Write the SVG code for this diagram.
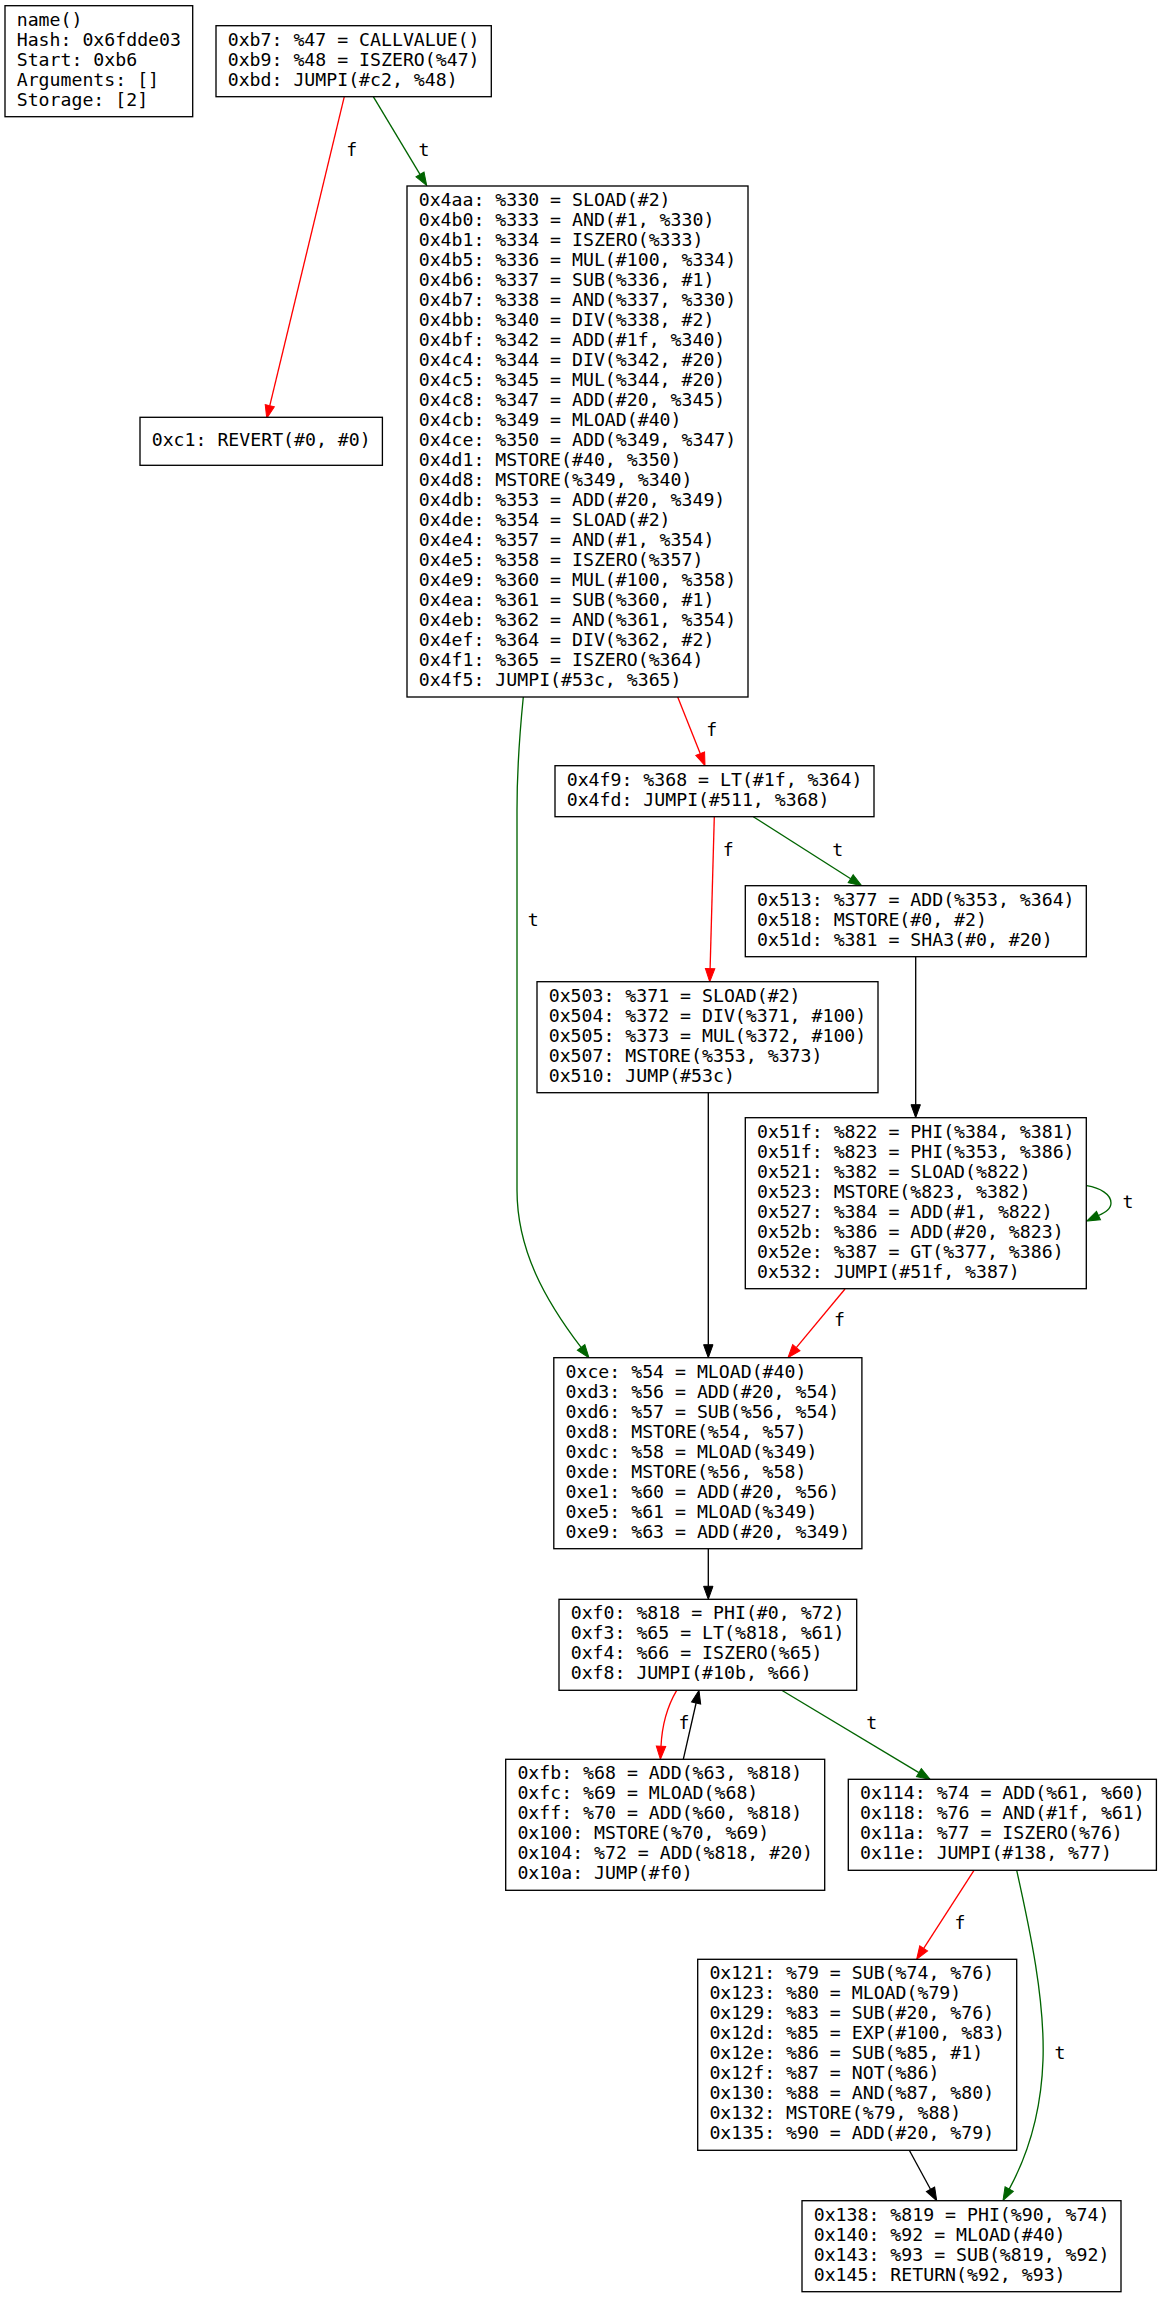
<svg xmlns="http://www.w3.org/2000/svg" width="1162" height="2297" viewBox="0 0 1162 2297">
<style>
.n rect{fill:#fff;stroke:#000;stroke-width:1.33}
text{font-family:"DejaVu Sans Mono","Liberation Mono",monospace;font-size:18.2px;fill:#000}
.e path{fill:none;stroke-width:1.33}
.r{stroke:#ff0000}
.g{stroke:#006400}
.k{stroke:#000}
.lbl{text-anchor:middle}
</style>
<defs>
<marker id="ar" markerUnits="userSpaceOnUse" markerWidth="14" markerHeight="10" viewBox="0 -5 14 10" refX="0" refY="0" orient="auto" overflow="visible"><polygon points="0,-4.7 13,0 0,4.7" fill="#ff0000" stroke="#ff0000" stroke-width="1"/></marker>
<marker id="ag" markerUnits="userSpaceOnUse" markerWidth="14" markerHeight="10" viewBox="0 -5 14 10" refX="0" refY="0" orient="auto" overflow="visible"><polygon points="0,-4.7 13,0 0,4.7" fill="#006400" stroke="#006400" stroke-width="1"/></marker>
<marker id="ak" markerUnits="userSpaceOnUse" markerWidth="14" markerHeight="10" viewBox="0 -5 14 10" refX="0" refY="0" orient="auto" overflow="visible"><polygon points="0,-4.7 13,0 0,4.7" fill="#000" stroke="#000" stroke-width="1"/></marker>
</defs>
<rect width="1162" height="2297" fill="#fff"/>
<g id="connectors" class="e">
<path class="r" d="M344.3,96.7 L269.8,405.7" marker-end="url(#ar)"/>
<text class="lbl" x="351.7" y="156">f</text>
<path class="g" d="M373.3,96.7 L420,174.4" marker-end="url(#ag)"/>
<text class="lbl" x="424" y="156">t</text>
<path class="r" d="M677.7,697 L700.2,753.6" marker-end="url(#ar)"/>
<text class="lbl" x="711.7" y="736">f</text>
<path class="g" d="M523.3,697 C519.5,735 517,770 517,810 L517,1190 C517,1250 545,1300 581.1,1347.4" marker-end="url(#ag)"/>
<text class="lbl" x="533.3" y="926">t</text>
<path class="r" d="M714.3,816.7 L710.1,968.7" marker-end="url(#ar)"/>
<text class="lbl" x="728.3" y="856">f</text>
<path class="g" d="M753.3,816.7 L850.7,878.7" marker-end="url(#ag)"/>
<text class="lbl" x="837.7" y="856">t</text>
<path class="k" d="M915.7,956.7 L915.7,1104.7" marker-end="url(#ak)"/>
<path class="g" d="M1086.7,1185.7 C1100,1188 1111,1194 1111,1203 C1111,1209 1105.5,1212.2 1098.5,1215.5" marker-end="url(#ag)"/>
<text class="lbl" x="1128" y="1208">t</text>
<path class="r" d="M845,1289 L796.3,1347.7" marker-end="url(#ar)"/>
<text class="lbl" x="839.6" y="1326">f</text>
<path class="k" d="M708.3,1092.7 L708.3,1344.7" marker-end="url(#ak)"/>
<path class="k" d="M708.3,1548.7 L708.3,1586.3" marker-end="url(#ak)"/>
<path class="r" d="M676.7,1690.3 C668,1705 662,1725 661,1746.3" marker-end="url(#ar)"/>
<text class="lbl" x="684" y="1729">f</text>
<path class="k" d="M683.3,1759.3 L696.1,1703" marker-end="url(#ak)"/>
<path class="g" d="M781.7,1690.3 L918.9,1772.6" marker-end="url(#ag)"/>
<text class="lbl" x="871.7" y="1729">t</text>
<path class="r" d="M974,1870.3 L923.7,1948.4" marker-end="url(#ar)"/>
<text class="lbl" x="960" y="1929">f</text>
<path class="g" d="M1016.7,1870.3 C1030,1930 1045,2000 1043,2060 C1041,2120 1025,2160 1009.2,2189.1" marker-end="url(#ag)"/>
<text class="lbl" x="1060" y="2059">t</text>
<path class="k" d="M909.3,2150.3 L930.5,2189.3" marker-end="url(#ak)"/>
</g>
<g id="n_name" class="n"><rect x="5" y="5.7" width="187.7" height="111"/>
<text x="16.7" y="25.7"><tspan x="16.7">name()</tspan><tspan x="16.7" dy="20">Hash: 0x6fdde03</tspan><tspan x="16.7" dy="20">Start: 0xb6</tspan><tspan x="16.7" dy="20">Arguments: []</tspan><tspan x="16.7" dy="20">Storage: [2]</tspan></text></g>
<g id="n_b7" class="n"><rect x="216" y="25.7" width="275.3" height="71"/>
<text x="227.7" y="45.7"><tspan x="227.7">0xb7: %47 = CALLVALUE()</tspan><tspan x="227.7" dy="20">0xb9: %48 = ISZERO(%47)</tspan><tspan x="227.7" dy="20">0xbd: JUMPI(#c2, %48)</tspan></text></g>
<g id="n_c1" class="n"><rect x="140" y="417.3" width="242.4" height="48"/>
<text x="151.7" y="446"><tspan x="151.7">0xc1: REVERT(#0, #0)</tspan></text></g>
<g id="n_4aa" class="n"><rect x="407" y="186" width="341" height="511"/>
<text x="418.7" y="206"><tspan x="418.7">0x4aa: %330 = SLOAD(#2)</tspan><tspan x="418.7" dy="20">0x4b0: %333 = AND(#1, %330)</tspan><tspan x="418.7" dy="20">0x4b1: %334 = ISZERO(%333)</tspan><tspan x="418.7" dy="20">0x4b5: %336 = MUL(#100, %334)</tspan><tspan x="418.7" dy="20">0x4b6: %337 = SUB(%336, #1)</tspan><tspan x="418.7" dy="20">0x4b7: %338 = AND(%337, %330)</tspan><tspan x="418.7" dy="20">0x4bb: %340 = DIV(%338, #2)</tspan><tspan x="418.7" dy="20">0x4bf: %342 = ADD(#1f, %340)</tspan><tspan x="418.7" dy="20">0x4c4: %344 = DIV(%342, #20)</tspan><tspan x="418.7" dy="20">0x4c5: %345 = MUL(%344, #20)</tspan><tspan x="418.7" dy="20">0x4c8: %347 = ADD(#20, %345)</tspan><tspan x="418.7" dy="20">0x4cb: %349 = MLOAD(#40)</tspan><tspan x="418.7" dy="20">0x4ce: %350 = ADD(%349, %347)</tspan><tspan x="418.7" dy="20">0x4d1: MSTORE(#40, %350)</tspan><tspan x="418.7" dy="20">0x4d8: MSTORE(%349, %340)</tspan><tspan x="418.7" dy="20">0x4db: %353 = ADD(#20, %349)</tspan><tspan x="418.7" dy="20">0x4de: %354 = SLOAD(#2)</tspan><tspan x="418.7" dy="20">0x4e4: %357 = AND(#1, %354)</tspan><tspan x="418.7" dy="20">0x4e5: %358 = ISZERO(%357)</tspan><tspan x="418.7" dy="20">0x4e9: %360 = MUL(#100, %358)</tspan><tspan x="418.7" dy="20">0x4ea: %361 = SUB(%360, #1)</tspan><tspan x="418.7" dy="20">0x4eb: %362 = AND(%361, %354)</tspan><tspan x="418.7" dy="20">0x4ef: %364 = DIV(%362, #2)</tspan><tspan x="418.7" dy="20">0x4f1: %365 = ISZERO(%364)</tspan><tspan x="418.7" dy="20">0x4f5: JUMPI(#53c, %365)</tspan></text></g>
<g id="n_4f9" class="n"><rect x="555" y="765.7" width="319" height="51"/>
<text x="566.7" y="785.7"><tspan x="566.7">0x4f9: %368 = LT(#1f, %364)</tspan><tspan x="566.7" dy="20">0x4fd: JUMPI(#511, %368)</tspan></text></g>
<g id="n_513" class="n"><rect x="745.3" y="885.7" width="341" height="71"/>
<text x="757" y="905.7"><tspan x="757">0x513: %377 = ADD(%353, %364)</tspan><tspan x="757" dy="20">0x518: MSTORE(#0, #2)</tspan><tspan x="757" dy="20">0x51d: %381 = SHA3(#0, #20)</tspan></text></g>
<g id="n_503" class="n"><rect x="537" y="981.7" width="341" height="111"/>
<text x="548.7" y="1001.7"><tspan x="548.7">0x503: %371 = SLOAD(#2)</tspan><tspan x="548.7" dy="20">0x504: %372 = DIV(%371, #100)</tspan><tspan x="548.7" dy="20">0x505: %373 = MUL(%372, #100)</tspan><tspan x="548.7" dy="20">0x507: MSTORE(%353, %373)</tspan><tspan x="548.7" dy="20">0x510: JUMP(#53c)</tspan></text></g>
<g id="n_51f" class="n"><rect x="745.3" y="1117.7" width="341" height="171"/>
<text x="757" y="1137.7"><tspan x="757">0x51f: %822 = PHI(%384, %381)</tspan><tspan x="757" dy="20">0x51f: %823 = PHI(%353, %386)</tspan><tspan x="757" dy="20">0x521: %382 = SLOAD(%822)</tspan><tspan x="757" dy="20">0x523: MSTORE(%823, %382)</tspan><tspan x="757" dy="20">0x527: %384 = ADD(#1, %822)</tspan><tspan x="757" dy="20">0x52b: %386 = ADD(#20, %823)</tspan><tspan x="757" dy="20">0x52e: %387 = GT(%377, %386)</tspan><tspan x="757" dy="20">0x532: JUMPI(#51f, %387)</tspan></text></g>
<g id="n_ce" class="n"><rect x="553.8" y="1357.7" width="308.1" height="191"/>
<text x="565.5" y="1377.7"><tspan x="565.5">0xce: %54 = MLOAD(#40)</tspan><tspan x="565.5" dy="20">0xd3: %56 = ADD(#20, %54)</tspan><tspan x="565.5" dy="20">0xd6: %57 = SUB(%56, %54)</tspan><tspan x="565.5" dy="20">0xd8: MSTORE(%54, %57)</tspan><tspan x="565.5" dy="20">0xdc: %58 = MLOAD(%349)</tspan><tspan x="565.5" dy="20">0xde: MSTORE(%56, %58)</tspan><tspan x="565.5" dy="20">0xe1: %60 = ADD(#20, %56)</tspan><tspan x="565.5" dy="20">0xe5: %61 = MLOAD(%349)</tspan><tspan x="565.5" dy="20">0xe9: %63 = ADD(#20, %349)</tspan></text></g>
<g id="n_f0" class="n"><rect x="559" y="1599.3" width="297.7" height="91"/>
<text x="570.7" y="1619.3"><tspan x="570.7">0xf0: %818 = PHI(#0, %72)</tspan><tspan x="570.7" dy="20">0xf3: %65 = LT(%818, %61)</tspan><tspan x="570.7" dy="20">0xf4: %66 = ISZERO(%65)</tspan><tspan x="570.7" dy="20">0xf8: JUMPI(#10b, %66)</tspan></text></g>
<g id="n_fb" class="n"><rect x="505.7" y="1759.3" width="319" height="131"/>
<text x="517.4" y="1779.3"><tspan x="517.4">0xfb: %68 = ADD(%63, %818)</tspan><tspan x="517.4" dy="20">0xfc: %69 = MLOAD(%68)</tspan><tspan x="517.4" dy="20">0xff: %70 = ADD(%60, %818)</tspan><tspan x="517.4" dy="20">0x100: MSTORE(%70, %69)</tspan><tspan x="517.4" dy="20">0x104: %72 = ADD(%818, #20)</tspan><tspan x="517.4" dy="20">0x10a: JUMP(#f0)</tspan></text></g>
<g id="n_114" class="n"><rect x="848.3" y="1779.3" width="308.1" height="91"/>
<text x="860" y="1799.3"><tspan x="860">0x114: %74 = ADD(%61, %60)</tspan><tspan x="860" dy="20">0x118: %76 = AND(#1f, %61)</tspan><tspan x="860" dy="20">0x11a: %77 = ISZERO(%76)</tspan><tspan x="860" dy="20">0x11e: JUMPI(#138, %77)</tspan></text></g>
<g id="n_121" class="n"><rect x="697.7" y="1959.3" width="319" height="191"/>
<text x="709.4" y="1979.3"><tspan x="709.4">0x121: %79 = SUB(%74, %76)</tspan><tspan x="709.4" dy="20">0x123: %80 = MLOAD(%79)</tspan><tspan x="709.4" dy="20">0x129: %83 = SUB(#20, %76)</tspan><tspan x="709.4" dy="20">0x12d: %85 = EXP(#100, %83)</tspan><tspan x="709.4" dy="20">0x12e: %86 = SUB(%85, #1)</tspan><tspan x="709.4" dy="20">0x12f: %87 = NOT(%86)</tspan><tspan x="709.4" dy="20">0x130: %88 = AND(%87, %80)</tspan><tspan x="709.4" dy="20">0x132: MSTORE(%79, %88)</tspan><tspan x="709.4" dy="20">0x135: %90 = ADD(#20, %79)</tspan></text></g>
<g id="n_138" class="n"><rect x="802" y="2200.7" width="319" height="91"/>
<text x="813.7" y="2220.7"><tspan x="813.7">0x138: %819 = PHI(%90, %74)</tspan><tspan x="813.7" dy="20">0x140: %92 = MLOAD(#40)</tspan><tspan x="813.7" dy="20">0x143: %93 = SUB(%819, %92)</tspan><tspan x="813.7" dy="20">0x145: RETURN(%92, %93)</tspan></text></g>
</svg>
